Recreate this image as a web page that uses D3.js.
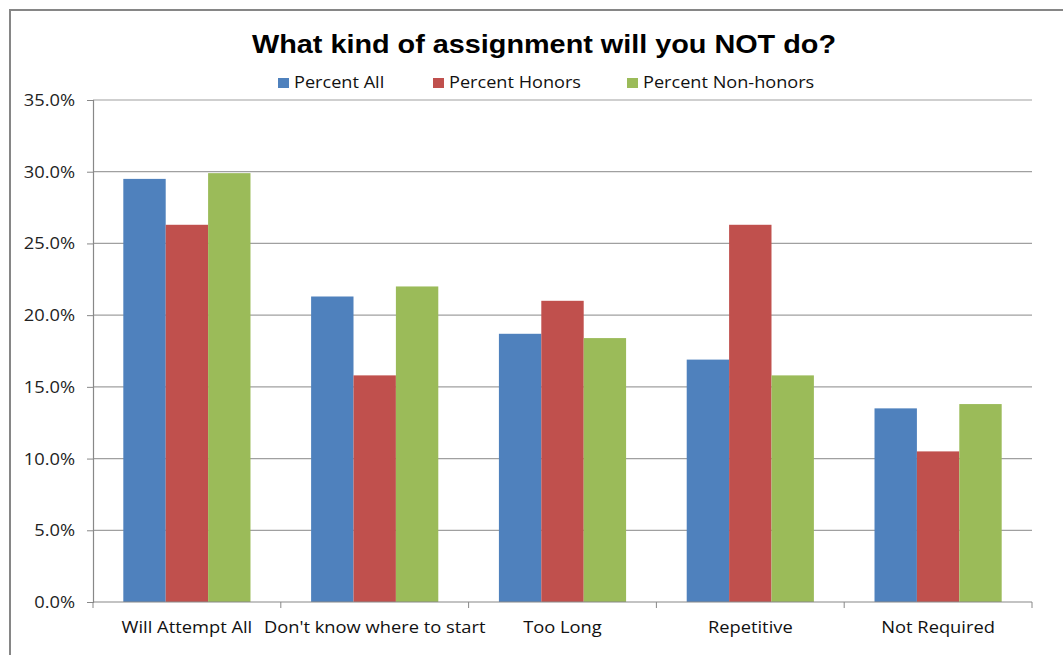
<!DOCTYPE html>
<html>
<head>
<meta charset="utf-8">
<script src="https://cdn.jsdelivr.net/npm/d3@7"></script>
<style>
  body { margin: 0; background: #fff; }
  svg { display: block; }
  text { font-family: "Open Sans", "Liberation Sans", sans-serif; }
</style>
</head>
<body>
<svg id="chart" width="1063" height="655"></svg>
<script>
const categories = ["Will Attempt All", "Don't know where to start", "Too Long", "Repetitive", "Not Required"];
const seriesNames = ["Percent All", "Percent Honors", "Percent Non-honors"];
const percentAll = [29.5, 21.3, 18.7, 16.9, 13.5];
const percentHonors = [26.3, 15.8, 21.0, 26.3, 10.5];
const percentNonHonors = [29.9, 22.0, 18.4, 15.8, 13.8];
const yTicks = [0, 5, 10, 15, 20, 25, 30, 35];
const colors = ["#4F81BD", "#C0504D", "#9BBB59"];
const title = "What kind of assignment will you NOT do?";

const seriesValues = [percentAll, percentHonors, percentNonHonors];

const svg = d3.select("#chart");
const margin = {left: 93, right: 1032, top: 100, bottom: 602};

// outer frame
svg.append("path")
  .attr("d", "M10,660 L10,10 L1070,10")
  .attr("fill", "none").attr("stroke", "#868686").attr("stroke-width", 2);

const x0 = d3.scaleBand().domain(categories).range([margin.left, margin.right]).paddingInner(0).paddingOuter(0);
const groupInner = 3 / 4.43;
const x1 = d3.scaleBand().domain(seriesNames)
  .range([0, x0.bandwidth() * groupInner]);
const groupOffset = (x0.bandwidth() - x0.bandwidth() * groupInner) / 2;
const y = d3.scaleLinear().domain([0, 35]).range([margin.bottom, margin.top]);

// gridlines
svg.append("g").selectAll("line").data(yTicks.filter(d => d > 0)).join("line")
  .attr("x1", margin.left).attr("x2", margin.right)
  .attr("y1", d => y(d)).attr("y2", d => y(d))
  .attr("stroke", "#A0A0A0").attr("stroke-width", 1.2);

// bars
const groups = svg.append("g").selectAll("g").data(categories).join("g")
  .attr("transform", c => `translate(${x0(c) + groupOffset},0)`);
groups.selectAll("rect")
  .data((c, i) => seriesNames.map((s, j) => ({s, v: seriesValues[j][i], j})))
  .join("rect")
  .attr("x", d => x1(d.s))
  .attr("width", x1.bandwidth())
  .attr("y", d => y(d.v))
  .attr("height", d => y(0) - y(d.v))
  .attr("fill", d => colors[d.j]);

// y axis
const yAxis = d3.axisLeft(y).tickValues(yTicks).tickSize(6).tickPadding(12)
  .tickFormat(d => d3.format(".1f")(d) + "%");
const gy = svg.append("g").attr("transform", `translate(${margin.left},0)`).call(yAxis);
gy.select(".domain").attr("stroke", "#888").attr("stroke-width", 1.2);
gy.selectAll(".tick line").attr("stroke", "#888");
gy.selectAll(".tick text")
  .attr("x", null).attr("dy", null)
  .attr("transform", "translate(-18,0) scale(1.18,1)")
  .attr("dy", "0.35em")
  .attr("font-size", 15.5).attr("fill", "#222")
  .style("font-family", "'Open Sans', sans-serif");

// x axis
const gx = svg.append("g").attr("transform", `translate(0,${margin.bottom})`);
gx.append("line").attr("x1", margin.left).attr("x2", margin.right)
  .attr("stroke", "#888").attr("stroke-width", 1.2);
const bounds = categories.map(c => x0(c)).concat([margin.right]);
gx.selectAll("line.tk").data(bounds).join("line").attr("class", "tk")
  .attr("x1", d => d).attr("x2", d => d).attr("y1", 0).attr("y2", 6)
  .attr("stroke", "#888");
gx.selectAll("text").data(categories).join("text")
  .attr("transform", c => `translate(${x0(c) + x0.bandwidth() / 2},31) scale(1.11,1)`)
  .attr("text-anchor", "middle")
  .attr("font-size", 16.5).attr("fill", "#111")
  .text(c => c);

// title
svg.append("text").attr("x", 544).attr("y", 53).attr("text-anchor", "middle")
  .attr("font-size", 25).attr("font-weight", "bold").attr("fill", "#000")
  .attr("textLength", 584).attr("lengthAdjust", "spacingAndGlyphs")
  .style("font-family", "'Liberation Sans', sans-serif")
  .text(title);

// legend
const legendX = [278, 433, 627];
const lg = svg.append("g").selectAll("g").data(seriesNames).join("g")
  .attr("transform", (d, i) => `translate(${legendX[i]},78)`);
lg.append("rect").attr("width", 11).attr("height", 10).attr("fill", (d, i) => colors[i]);
lg.append("text").attr("transform", "translate(16,10) scale(1.17,1)")
  .attr("font-size", 15.5).attr("fill", "#111").text(d => d);
</script>
</body>
</html>
